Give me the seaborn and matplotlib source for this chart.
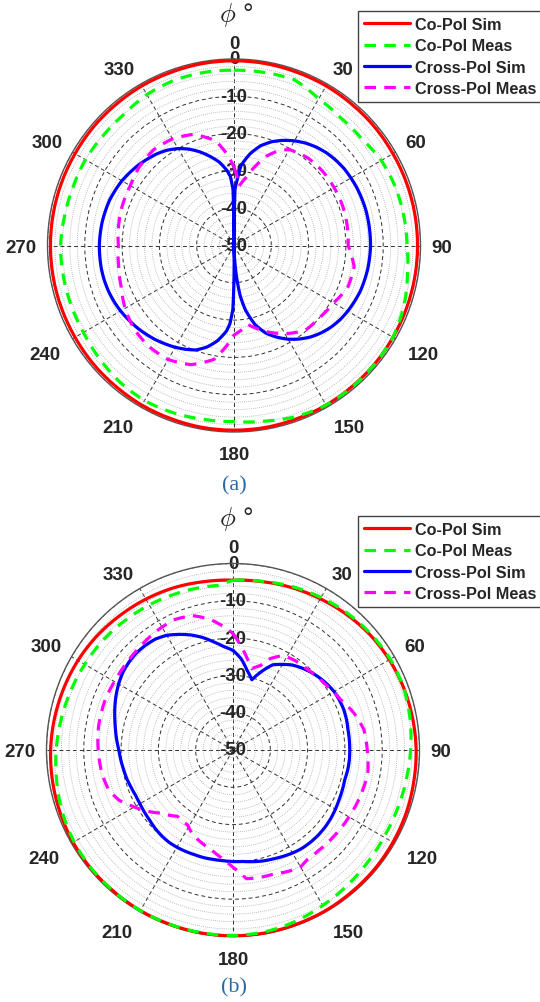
import numpy as np
import matplotlib
matplotlib.use("Agg")
import matplotlib.pyplot as plt
import seaborn as sns

# ---------------------------------------------------------------
# Radiation patterns (normalised gain in dB versus azimuth phi, deg)
# ---------------------------------------------------------------
R_TICKS = [-50, -40, -30, -20, -10, 0]
THETA_TICKS = list(range(0, 360, 30))
SERIES_NAMES = ["Co-Pol Sim", "Co-Pol Meas", "Cross-Pol Sim", "Cross-Pol Meas"]

PHI_10 = list(range(0, 361, 10))
PHI_5 = list(range(0, 361, 5))

# ---- panel (a) ----
co_sim_a = [-0.5, -0.5, -0.6, -0.6, -0.7, -0.7, -0.8, -0.8, -0.8, -0.8,
            -0.8, -0.8, -0.8, -0.7, -0.7, -0.6, -0.6, -0.5, -0.5, -0.5,
            -0.6, -0.6, -0.7, -0.7, -0.8, -0.8, -0.8, -0.8, -0.8, -0.8,
            -0.8, -0.7, -0.7, -0.6, -0.6, -0.5, -0.5]
co_meas_a = [-3.0, -2.9, -2.7, -4.6, -5.4, -5.4, -4.4, -4.0, -3.8, -3.6,
             -2.8, -1.6, -0.8, -0.7, -0.6, -0.6, -1.2, -2.2, -2.8, -2.7,
             -2.3, -2.0, -2.3, -2.9, -3.4, -3.5, -3.5, -3.5, -3.9, -4.1,
             -4.0, -4.2, -4.1, -3.3, -2.9, -2.9, -3.0]

phi_xsim_a = [0, 1, 3, 5, 10, 15, 20, 25, 30, 35, 40, 45, 50, 55, 60, 65, 70,
              75, 80, 85, 90, 95, 100, 105, 110, 115, 120, 125, 130, 135,
              140, 145, 150, 155, 160, 165, 170, 173, 176, 179, 181, 183,
              185, 190, 195, 200, 205, 210, 215, 220, 225, 230, 235, 240,
              245, 250, 255, 260, 265, 270, 275, 280, 285, 290, 295, 300,
              305, 310, 315, 320, 325, 330, 335, 340, 345, 350, 355, 357,
              359, 360]
xsim_a = [-50, -35, -32, -28.5, -25, -22.3, -20.4, -18.9, -17.6, -16.5,
          -15.6, -14.9, -14.4, -14.0, -13.8, -13.6, -13.5, -13.4, -13.4,
          -13.4, -13.4, -13.5, -13.6, -13.8, -14.0, -14.4, -14.8, -15.3,
          -16.0, -16.9, -18.0, -19.4, -21.0, -22.9, -25.0, -28.0, -32.5,
          -36.5, -43, -50, -33, -29, -27, -24, -21.8, -20.2, -19.3, -18.5,
          -17.8, -17.1, -16.5, -15.9, -15.4, -14.9, -14.5, -14.2, -14.0,
          -13.9, -13.9, -13.9, -14.0, -14.1, -14.3, -14.5, -14.9, -15.3,
          -15.9, -16.5, -17.2, -17.9, -18.8, -20.0, -21.5, -23.3, -25.3,
          -27.3, -30.0, -31.5, -35, -50]

phi_xmeas_a = [0, 5, 10, 15, 20, 25, 30, 40, 50, 60, 70, 80, 90, 100, 110,
               120, 130, 140, 150, 160, 170, 180, 190, 200, 210, 220, 230,
               240, 250, 260, 270, 280, 290, 300, 310, 320, 330, 340, 350,
               355, 360]
xmeas_a = [-29, -34, -31.5, -28, -24.5, -22, -20.3, -19.3, -19, -19, -19,
           -19.2, -19.4, -17.3, -17.5, -19.2, -20, -20.3, -22.7, -25.5,
           -28.5, -26, -19, -16, -14.7, -14.6, -15.1, -16.3, -17.8, -18.6,
           -19, -18.6, -18.2, -17.9, -17, -16.5, -17, -18.3, -21.5, -25,
           -29]

# ---- panel (b) ----
co_sim_b = [-4.5, -4.2, -3.7, -3.2, -2.6, -2.0, -1.6, -1.3, -1.1, -0.9,
            -0.8, -0.6, -0.5, -0.4, -0.4, -0.3, -0.3, -0.2, -0.2, -0.2,
            -0.3, -0.3, -0.4, -0.4, -0.5, -0.7, -0.9, -1.1, -1.4, -1.7,
            -2.0, -2.4, -2.9, -3.3, -3.7, -4.2, -4.5]
phi_co_meas_b = list(range(0, 360, 10)) + [355, 360]
co_meas_b = [-4.5, -4.1, -3.4, -2.8, -2.2, -1.7, -1.3, -1.3, -1.8, -2.4,
             -2.9, -3.2, -3.3, -3.0, -2.5, -1.9, -1.1, -0.5, -0.3, -0.3,
             -0.3, -0.3, -0.4, -0.5, -0.8, -1.3, -2.0, -2.6, -3.2, -3.7,
             -4.1, -4.4, -4.8, -5.1, -5.4, -5.6, -5.7, -4.5]

xsim_b = [-23.3, -25.4, -28.3, -30.5, -27.6, -24.8, -23.5, -22.2, -21.3,
          -20.5, -19.8, -19.2, -18.7, -18.5, -18.4, -18.5, -18.7, -18.7,
          -18.7, -18.7, -18.8, -19.0, -18.8, -18.6, -18.3, -18.0, -17.8,
          -17.7, -17.7, -17.8, -18.1, -18.5, -18.9, -19.2, -19.6, -20.0,
          -20.1, -20.2, -20.2, -20.1, -20.1, -20.0, -19.9, -19.9, -20.1,
          -20.4, -20.8, -21.0, -21.2, -21.2, -20.9, -20.5, -20.2, -19.8,
          -19.4, -18.7, -18.0, -17.2, -16.3, -15.4, -14.6, -13.9, -13.5,
          -13.3, -13.4, -13.7, -14.5, -15.8, -17.2, -18.8, -20.6, -22.2,
          -23.3]

phi_xmeas_b = [0, 5, 10, 13, 18, 22, 28, 35, 42, 50, 56, 65, 73, 81, 90,
               100, 110, 120, 130, 140, 146, 150, 155, 162, 168, 174, 178,
               184, 192, 198, 206, 211, 220, 229, 236, 242, 246, 252, 260,
               269, 280, 291, 301, 311, 320, 329, 336, 343, 350, 357, 360]
xmeas_b = [-18.8, -22.5, -26, -27.6, -26.2, -23.6, -21.3, -20.8, -20.6,
           -20.0, -19.5, -18.1, -16.1, -14.5, -14.0, -13.3, -13.7, -14.1,
           -14.4, -14.6, -14.5, -13.8, -14.2, -15.0, -15.1, -15.3, -17.7,
           -20.3, -22.6, -23.6, -25.0, -26.5, -26.8, -24.2, -21.1, -18.6,
           -16.7, -15.0, -14.3, -13.9, -13.4, -13.2, -13.3, -13.1, -12.6,
           -12.0, -11.7, -12.3, -14.4, -17.4, -18.8]

# ---------------------------------------------------------------
sns.set_style("white")
plt.rcParams["font.family"] = ["Liberation Sans", "DejaVu Sans"]
plt.rcParams["mathtext.fontset"] = "cm"

W, H = 540, 1003
fig = plt.figure(figsize=(W / 100, H / 100), dpi=100)

COLORS = ["#ff0000", "#00ff00", "#0000ff", "#ff00ff"]
DASH = (0, (3.6, 2.6))
STYLES = ["-", DASH, "-", DASH]
GRID_DARK = "#303030"
TEXT_DARK = "#262626"
TICK_FS = 13.5
THETA_LABEL_R = 3.0   # angle labels sit just outside the 0 dB rim


def axes_rect(cx, cy, r):
    return [(cx - r) / W, 1 - (cy + r) / H, 2 * r / W, 2 * r / H]


def theta_label(ax, deg):
    s, c = np.sin(np.deg2rad(deg)), np.cos(np.deg2rad(deg))
    ha = "left" if s > 0.01 else ("right" if s < -0.01 else "center")
    va = "baseline" if c > 0.01 else ("top" if c < -0.01 else "center_baseline")
    r = THETA_LABEL_R + (0.8 if c < -0.01 else 0.0)
    ax.text(np.deg2rad(deg), r, str(deg), ha=ha, va=va,
            fontsize=TICK_FS, fontweight="bold", color=TEXT_DARK,
            clip_on=False)


def draw_panel(rect, curves, title_xy, caption, caption_xy, legend_xy):
    ax = fig.add_axes(rect, projection="polar")
    ax.set_theta_zero_location("N")
    ax.set_theta_direction(-1)

    for name, (phi, val), color, ls in zip(SERIES_NAMES, curves, COLORS, STYLES):
        sns.lineplot(x=np.deg2rad(phi), y=val, ax=ax, color=color, lw=2.3,
                     linestyle=ls, sort=False, estimator=None, label=name,
                     clip_on=False, zorder=3)
    # draw each segment along the polar grid rather than as a straight chord
    for line in ax.get_lines():
        line.get_path()._interpolation_steps = 12

    ax.set_ylim(-50, 0)
    ax.set_yticks(R_TICKS)
    ax.set_yticks(np.arange(-50, 0, 2), minor=True)
    ax.set_yticklabels([])
    ax.tick_params(axis="y", which="both", length=0)
    ax.set_xticks(np.deg2rad(THETA_TICKS))
    ax.set_xticklabels([])
    ax.tick_params(axis="x", length=0)
    ax.xaxis.grid(True, color=GRID_DARK, ls=(0, (4, 3)), lw=0.7)
    ax.yaxis.grid(True, which="major", color=GRID_DARK, ls=(0, (4, 3)), lw=0.7)
    ax.yaxis.grid(True, which="minor", color="#a8a8a8", ls=(0, (1, 1.5)), lw=0.6)
    ax.spines["polar"].set_color("#555555")
    ax.spines["polar"].set_linewidth(1.0)
    ax.set_xlabel("")
    ax.set_ylabel("")

    for deg in THETA_TICKS:
        theta_label(ax, deg)
    for r in R_TICKS:
        ax.text(0, r, str(r), ha="center", va="center", fontsize=TICK_FS,
                fontweight="bold", color=TEXT_DARK, zorder=2.5)

    ax.legend(loc="upper left", bbox_to_anchor=legend_xy,
              bbox_transform=fig.transFigure, frameon=True, fancybox=False,
              edgecolor="#444444", framealpha=1, borderaxespad=0,
              prop={"weight": "bold", "size": 11.7}, handlelength=2.8,
              handletextpad=0.33, labelspacing=0.38, borderpad=0.38)
    ax.get_legend().get_frame().set_linewidth(1.0)

    fig.text(title_xy[0] / W, 1 - title_xy[1] / H, r"$\phi$ °",
             fontsize=19, ha="center", va="center", color=TEXT_DARK)
    fig.text(caption_xy[0] / W, 1 - caption_xy[1] / H, caption,
             fontsize=16, ha="center", va="center", color="#2b6aa3",
             family=["Liberation Serif", "DejaVu Serif"])
    return ax


draw_panel(axes_rect(234, 246.5, 186.5),
           [(PHI_10, co_sim_a), (PHI_10, co_meas_a),
            (phi_xsim_a, xsim_a), (phi_xmeas_a, xmeas_a)],
           (236, 15), "(a)", (234, 486), (358 / W, 1 - 12 / H))

draw_panel(axes_rect(233, 751, 186.5),
           [(PHI_10, co_sim_b), (phi_co_meas_b, co_meas_b),
            (PHI_5, xsim_b), (phi_xmeas_b, xmeas_b)],
           (236, 519), "(b)", (234, 988), (358 / W, 1 - 517 / H))

fig.savefig("out.png", dpi=100)
